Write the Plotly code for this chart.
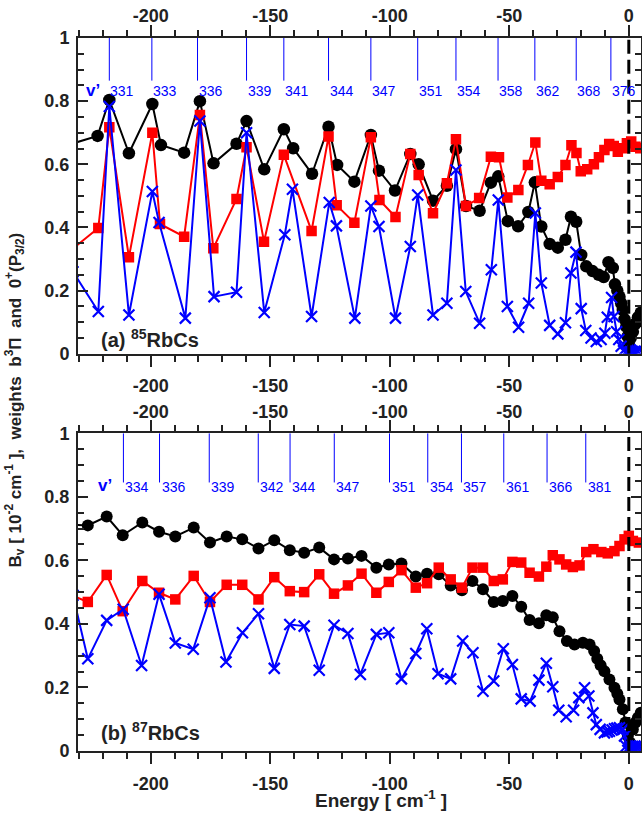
import plotly.graph_objects as go

# ---------------- (a) 85RbCs ----------------
# B_v (black circles)
a_bv_e = [-233, -222.2, -217.3, -209.1, -199.3, -195.7, -186, -179.4, -173.7, -164.1,
          -159.9, -152.5, -144.3, -140.4, -132.5, -125.6, -122, -114.8, -107.9, -104.5,
          -97.8, -91.4, -87.9, -81.9, -76.1, -72.3, -68.1, -62.4, -57.7, -54.6,
          -50.6, -46.3, -42, -39.3, -36.6, -33.1, -29.7, -26.5, -24.2, -22,
          -19.9, -17.8, -15.2, -12.6, -10.5, -8.5, -6.7, -5.8, -4.8, -3.9,
          -3.2, -2.5, -1.8, -1.1, -0.5, 0, 0.8, 1.7, 2.7, 3.8, 5.0]
a_bv = [0.665, 0.69, 0.804, 0.635, 0.791, 0.661, 0.637, 0.80, 0.603, 0.665,
        0.737, 0.584, 0.711, 0.651, 0.57, 0.719, 0.598, 0.545, 0.693, 0.58,
        0.517, 0.633, 0.60, 0.485, 0.532, 0.648, 0.468, 0.453, 0.542, 0.562,
        0.42, 0.404, 0.449, 0.543, 0.403, 0.348, 0.336, 0.361, 0.434, 0.418,
        0.313, 0.277, 0.262, 0.25, 0.243, 0.29, 0.272, 0.22, 0.2, 0.181,
        0.16, 0.139, 0.11, 0.086, 0.055, 0.03, 0.05, 0.07, 0.095, 0.115, 0.13]

# 0+(P3/2) weight (red squares)
a_red_e = [-233, -221.9, -217.3, -209.1, -199.3, -196.1, -186, -179.4, -173.8, -164.1,
           -159.9, -152.6, -144.3, -132.7, -125.6, -122.2, -114.8, -107.9, -104.3, -97.6,
           -91.4, -87.9, -81.9, -76.1, -72.3, -68.1, -62.6, -57.7, -54.3, -50.8,
           -46.2, -42.2, -39.1, -36.6, -33.1, -29.7, -26.5, -24.0, -21.9, -20.1,
           -17.4, -14.6, -12.5, -10.2, -8.2, -6.3, -4.6, -2.5, -0.8, 1.0, 2.8, 4.8]
a_red = [0.33, 0.398, 0.717, 0.306, 0.70, 0.411, 0.371, 0.756, 0.334, 0.49,
         0.654, 0.355, 0.63, 0.389, 0.688, 0.47, 0.415, 0.686, 0.487, 0.433,
         0.633, 0.566, 0.445, 0.54, 0.679, 0.468, 0.493, 0.624, 0.622, 0.495,
         0.519, 0.598, 0.669, 0.548, 0.537, 0.56, 0.598, 0.66, 0.636, 0.578,
         0.584, 0.60, 0.622, 0.645, 0.664, 0.658, 0.64, 0.651, 0.667, 0.672, 0.656, 0.651]

# b3Pi weight (blue crosses)
a_blue_e = [-232.5, -221.9, -217.3, -209.1, -199.3, -196.5, -185.5, -179.4, -173.5, -164.1,
            -159.9, -152.5, -143.9, -140.7, -132.7, -125.3, -122.3, -114.6, -107.9, -104.5,
            -97.6, -91.4, -88.3, -81.9, -76.1, -72.3, -68.2, -62.4, -57.5, -54.6,
            -50.8, -46.1, -41.9, -39.1, -36.6, -33.1, -29.7, -26.5, -24.2, -22.1,
            -19.9, -18, -15.8, -13.6, -11.6, -10, -9.0, -7.2, -6.2, -5.1,
            -4.2, -3.2, -2.2, -1.2, -0.3, 0.5, 1.5, 2.5, 3.5, 4.5]
a_blue = [0.26, 0.134, 0.783, 0.123, 0.514, 0.416, 0.113, 0.737, 0.181, 0.195,
          0.70, 0.131, 0.377, 0.521, 0.118, 0.479, 0.405, 0.113, 0.468, 0.403,
          0.113, 0.34, 0.503, 0.123, 0.16, 0.582, 0.197, 0.097, 0.266, 0.487,
          0.15, 0.084, 0.16, 0.446, 0.224, 0.09, 0.063, 0.098, 0.256, 0.322,
          0.143, 0.074, 0.05, 0.039, 0.045, 0.065, 0.116, 0.178, 0.118, 0.07,
          0.045, 0.024, 0.01, 0.006, 0.005, 0.006, 0.007, 0.008, 0.01, 0.013]

# vibrational levels marked along the top
a_vib_e = [-217.3, -199.5, -180.4, -159.9, -144.3, -125.6, -107.9, -88.3, -72.3, -54.7, -39.3, -22.0, -7.5]
a_vib_v = ["331", "333", "336", "339", "341", "344", "347", "351", "354", "358", "362", "368", "376"]

# ---------------- (b) 87RbCs ----------------
b_bv_e = [-233, -226.3, -218.4, -211.7, -203.5, -196.5, -189.7, -182, -175.2, -168.2,
          -161.7, -154.9, -148.3, -141.8, -135.8, -129.5, -123.3, -117.5, -111.8, -105.6,
          -100.4, -95.1, -89.1, -84.4, -79.5, -74.5, -69.8, -65.4, -61, -56.5,
          -52.7, -48.7, -45, -41.5, -37.6, -34.5, -31.8, -29, -25.9, -22.7,
          -19.2, -16.4, -14.5, -13.2, -11.8, -10.2, -8.1, -6, -4.8, -3.9,
          -2.5, -1.4, -0.4, 0.6, 1.7, 2.8, 3.8, 5.0]
b_bv = [0.712, 0.71, 0.738, 0.679, 0.719, 0.69, 0.675, 0.703, 0.656, 0.675,
        0.666, 0.637, 0.663, 0.632, 0.624, 0.64, 0.603, 0.606, 0.614, 0.577,
        0.587, 0.59, 0.549, 0.558, 0.556, 0.521, 0.506, 0.535, 0.509, 0.469,
        0.472, 0.488, 0.454, 0.412, 0.402, 0.427, 0.421, 0.377, 0.346, 0.335,
        0.341, 0.335, 0.315, 0.29, 0.27, 0.251, 0.225, 0.199, 0.18, 0.162,
        0.131, 0.09, 0.047, 0.026, 0.068, 0.09, 0.105, 0.12]

b_red_e = [-233, -226.3, -218.4, -211.7, -203.5, -196.5, -189.7, -182, -175.2, -168.2,
           -161.7, -154.9, -148.3, -141.8, -135.8, -129.5, -123.3, -117.5, -111.8, -105.6,
           -100.4, -95.1, -89.1, -84.4, -79.5, -74.5, -69.8, -65.4, -61, -56.5,
           -52.7, -48.7, -45, -41.5, -37.6, -34.5, -31.8, -29, -26.2, -23.4,
           -20.6, -17.8, -14.8, -11.5, -8.8, -6, -3.9, -1.8, 0, 1.7, 4.2]
b_red = [0.49, 0.469, 0.554, 0.44, 0.535, 0.498, 0.477, 0.551, 0.469, 0.523,
         0.523, 0.477, 0.547, 0.503, 0.50, 0.556, 0.495, 0.521, 0.558, 0.498,
         0.532, 0.569, 0.514, 0.528, 0.577, 0.54, 0.514, 0.577, 0.577, 0.535,
         0.54, 0.595, 0.593, 0.561, 0.549, 0.58, 0.616, 0.603, 0.587, 0.579,
         0.584, 0.626, 0.635, 0.626, 0.622, 0.629, 0.645, 0.666, 0.677, 0.661, 0.656]

b_blue_e = [-232.5, -226.3, -218.4, -211.5, -203.8, -196.5, -189.7, -182.2, -175.2, -168.5,
            -161.6, -154.9, -148.3, -141.8, -135.8, -129.5, -123.3, -117.5, -112.3, -105.6,
            -100.4, -95.1, -89.1, -84.5, -79.8, -74.5, -69.5, -65.2, -61, -56.5,
            -52.5, -48.7, -45, -41.3, -37.6, -34.5, -31.8, -29.3, -26.2, -23.1,
            -20.9, -18.5, -16.7, -15, -13.6, -12, -10.2, -9, -8.1, -7,
            -6, -5, -3.9, -2.5, -1.8, -1.1, -0.4, 0.5, 1.5, 2.5, 3.5, 4.5]
b_blue = [0.49, 0.29, 0.411, 0.446, 0.269, 0.493, 0.34, 0.32, 0.482, 0.28,
          0.372, 0.432, 0.26, 0.398, 0.393, 0.254, 0.396, 0.37, 0.241, 0.367,
          0.372, 0.227, 0.307, 0.385, 0.243, 0.227, 0.346, 0.309, 0.188, 0.22,
          0.322, 0.272, 0.164, 0.157, 0.223, 0.276, 0.202, 0.128, 0.108, 0.128,
          0.168, 0.199, 0.173, 0.12, 0.083, 0.068, 0.057, 0.06, 0.062, 0.066,
          0.07, 0.072, 0.073, 0.068, 0.047, 0.015, 0.002, 0.015, 0.015, 0.016, 0.016, 0.016]

b_vib_e = [-211.4, -196.3, -175.5, -155.0, -141.7, -123.2, -100.1, -84.1, -70.0, -52.3, -34.2, -18.0]
b_vib_v = ["334", "336", "339", "342", "344", "347", "351", "354", "357", "361", "366", "381"]

x_ticks = [-200, -150, -100, -50, 0]
x_tick_text = ["-200", "-150", "-100", "-50", "0"]
y_ticks = [0, 0.2, 0.4, 0.6, 0.8, 1]
y_tick_text = ["0", "0.2", "0.4", "0.6", "0.8", "1"]

X_RANGE = [-230.4, 5.1]
INK = "#222222"
FONT = "Liberation Sans"

fig = go.Figure()


def add_series(xs, ys, xa, ya, color, symbol, size, lw=2):
    if symbol == "x-thin":
        marker = dict(symbol=symbol, size=size, color=color, line=dict(color=color, width=2.2))
    else:
        marker = dict(symbol=symbol, size=size, color=color, line=dict(width=0))
    fig.add_trace(go.Scatter(x=xs, y=ys, mode="lines+markers", xaxis=xa, yaxis=ya,
                             line=dict(color=color, width=lw), marker=marker,
                             showlegend=False, hoverinfo="skip", cliponaxis=True))


def add_vib_lines(es, xa, ya, y_low):
    xs, ys = [], []
    for e in es:
        xs += [e, e, None]
        ys += [1.0, y_low, None]
    fig.add_trace(go.Scatter(x=xs, y=ys, mode="lines", xaxis=xa, yaxis=ya,
                             line=dict(color="#0000ff", width=1),
                             showlegend=False, hoverinfo="skip"))


# panel (a)
add_vib_lines(a_vib_e, "x", "y", 0.865)
add_series(a_bv_e, a_bv, "x", "y", "black", "circle", 12.5)
add_series(a_red_e, a_red, "x", "y", "#ff0000", "square", 10.5)
add_series(a_blue_e, a_blue, "x", "y", "#0000ff", "x-thin", 11)

# panel (b)
add_vib_lines(b_vib_e, "x2", "y2", 0.845)
add_series(b_bv_e, b_bv, "x2", "y2", "black", "circle", 12)
add_series(b_red_e, b_red, "x2", "y2", "#ff0000", "square", 10.5)
add_series(b_blue_e, b_blue, "x2", "y2", "#0000ff", "x-thin", 11)

# empty traces so the top axes get drawn
fig.add_trace(go.Scatter(x=[None], y=[None], xaxis="x3", yaxis="y", showlegend=False, hoverinfo="skip"))
fig.add_trace(go.Scatter(x=[None], y=[None], xaxis="x4", yaxis="y2", showlegend=False, hoverinfo="skip"))

tickfont = dict(family=FONT, size=18, color=INK, weight="bold")


def xaxis_cfg(anchor, side, overlay=None, standoff=4):
    d = dict(range=X_RANGE, domain=[0, 1], anchor=anchor, side=side,
             tickvals=x_ticks, ticktext=x_tick_text, ticks="outside", ticklen=11, tickwidth=2,
             tickcolor=INK, showline=True, linewidth=2, linecolor=INK,
             minor=dict(dtick=10, tick0=0, ticks="outside", ticklen=6, tickwidth=2, tickcolor=INK),
             showgrid=False, zeroline=False, tickfont=tickfont, ticklabelstandoff=standoff)
    if overlay:
        d["overlaying"] = overlay
    return d


def yaxis_cfg(anchor, domain):
    return dict(range=[0, 1], domain=domain, anchor=anchor,
                tickvals=y_ticks, ticktext=y_tick_text, ticks="inside", ticklen=10, tickwidth=2,
                tickcolor=INK, showline=True, linewidth=2, linecolor=INK, mirror="ticks",
                minor=dict(dtick=0.05, tick0=0, ticks="inside", ticklen=6, tickwidth=2, tickcolor=INK),
                showgrid=False, zeroline=False, tickfont=tickfont, ticklabelstandoff=3)


fig.update_layout(
    width=642, height=813,
    margin=dict(l=78, r=0.5, t=38, b=61.5, autoexpand=False),
    paper_bgcolor="white", plot_bgcolor="white",
    font=dict(family=FONT, color=INK),
    xaxis=xaxis_cfg("y", "bottom"),
    xaxis3=xaxis_cfg("y", "top", "x", standoff=-4),
    yaxis=yaxis_cfg("x", [0.5571, 1.0]),
    xaxis2=xaxis_cfg("y2", "bottom"),
    xaxis4=xaxis_cfg("y2", "top", "x2", standoff=-5),
    yaxis2=yaxis_cfg("x2", [0.0, 0.4457]),
)

# dashed line at the dissociation limit
for xr, yr in (("x", "y"), ("x2", "y2")):
    fig.add_shape(type="line", xref=xr, yref=yr, x0=0, x1=0, y0=0, y1=1,
                  line=dict(color="black", width=3, dash="14px,6px"), layer="above")

# v' labels
vib_font = dict(family=FONT, size=14, color="#0000ff")
for e, v in zip(a_vib_e, a_vib_v):
    fig.add_annotation(x=e, y=0.832, xref="x", yref="y", text=v, showarrow=False,
                       xanchor="left", yanchor="middle", xshift=-1, font=vib_font)
for e, v in zip(b_vib_e, b_vib_v):
    fig.add_annotation(x=e, y=0.832, xref="x2", yref="y2", text=v, showarrow=False,
                       xanchor="left", yanchor="middle", xshift=0, font=vib_font)

vfont = dict(family=FONT, size=17, color="#0000ff", weight="bold")
fig.add_annotation(x=-227.8, y=0.835, xref="x", yref="y", text="v’", showarrow=False,
                   xanchor="left", yanchor="middle", font=vfont)
fig.add_annotation(x=-222.8, y=0.835, xref="x2", yref="y2", text="v’", showarrow=False,
                   xanchor="left", yanchor="middle", font=vfont)

# panel tags
tagfont = dict(family=FONT, size=20, color=INK, weight="bold")
fig.add_annotation(x=-221.5, y=0.048, xref="x", yref="y", text="(a) <sup>85</sup>RbCs",
                   showarrow=False, xanchor="left", yanchor="middle", font=tagfont)
fig.add_annotation(x=-221.5, y=0.06, xref="x2", yref="y2", text="(b) <sup>87</sup>RbCs",
                   showarrow=False, xanchor="left", yanchor="middle", font=tagfont)

# axis titles
titlefont = dict(family=FONT, size=17, color=INK, weight="bold")
fig.add_annotation(x=-0.112, y=0.493, xref="paper", yref="paper",
                   text="B<sub>v</sub> [ 10<sup>-2</sup> cm<sup>-1</sup> ],  weights  "
                        "b<sup>3</sup>Π  and  0<sup>+</sup>(P<sub>3/2</sub>)",
                   textangle=-90, showarrow=False, xanchor="center", yanchor="middle", font=titlefont)
fig.add_annotation(x=0.5377, y=-0.067, xref="paper", yref="paper",
                   text="Energy [ cm<sup>-1</sup> ]", showarrow=False,
                   xanchor="center", yanchor="middle", font=dict(family=FONT, size=19, color=INK, weight="bold"))

fig.write_html("out.html")
